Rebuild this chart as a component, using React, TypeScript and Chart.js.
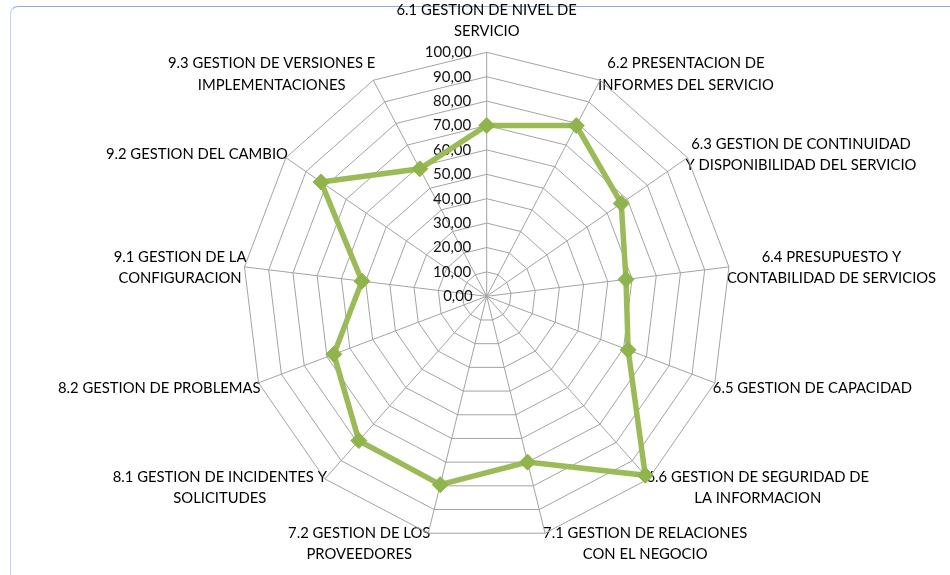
import React, { useEffect, useRef } from 'react';
import { Chart, registerables } from 'chart.js';

Chart.register(...registerables);

// ---- data ----
const categories: string[][] = [
  ['6.1 GESTION DE NIVEL DE', 'SERVICIO'],
  ['6.2 PRESENTACION DE', 'INFORMES DEL SERVICIO'],
  ['6.3 GESTION DE CONTINUIDAD', 'Y DISPONIBILIDAD DEL SERVICIO'],
  ['6.4 PRESUPUESTO Y', 'CONTABILIDAD DE SERVICIOS'],
  ['6.5 GESTION DE CAPACIDAD'],
  ['6.6 GESTION DE SEGURIDAD DE', 'LA INFORMACION'],
  ['7.1 GESTION DE RELACIONES', 'CON EL NEGOCIO'],
  ['7.2 GESTION DE LOS', 'PROVEEDORES'],
  ['8.1 GESTION DE INCIDENTES Y', 'SOLICITUDES'],
  ['8.2 GESTION DE PROBLEMAS'],
  ['9.1 GESTION DE LA', 'CONFIGURACION'],
  ['9.2 GESTION DEL CAMBIO'],
  ['9.3 GESTION DE VERSIONES E', 'IMPLEMENTACIONES'],
];

const values: number[] = [70, 79, 67, 57.5, 62, 98, 70, 79.5, 79, 67, 51.5, 82.5, 59];

const axisMin = -1e-9; // lets the 0,00 label be drawn
const axisMax = 100;
const axisStep = 10;

// ---- layout / style ----
const FONT = 'Lato, "Open Sans", sans-serif';
const CX = 486.7;
const CY = 296.3;
const R = 244;
const TICK_FONT_SIZE = 15;
const LABEL_FONT_SIZE = 14.8;
const TICK_GAP = 15;
const LINE_COLOR = '#9bbb59';
const MARKER_COLOR = '#8fb44b';
const GRID_COLOR = '#a3a3a3';

const measureCtx = typeof document !== 'undefined' ? document.createElement('canvas').getContext('2d') : null;

function formatTick(v: number): string {
  const txt = Math.max(0, v).toFixed(2).replace('.', ',');
  if (!measureCtx) return txt;
  measureCtx.font = `${TICK_FONT_SIZE}px ${FONT}`;
  const w = measureCtx.measureText(txt).width;
  const sp = measureCtx.measureText(' ').width || 4;
  const n = Math.max(0, Math.round((w + 2 * TICK_GAP) / sp));
  return txt + ' '.repeat(n);
}

export default function App() {
  const ref = useRef<HTMLCanvasElement | null>(null);

  useEffect(() => {
    if (!ref.current) return;
    const chart = new Chart(ref.current, {
      type: 'radar',
      data: {
        labels: categories,
        datasets: [
          {
            label: 'Serie',
            data: values,
            borderColor: LINE_COLOR,
            borderWidth: 5.5,
            fill: false,
            pointStyle: 'rectRot',
            pointRadius: 8,
            pointBackgroundColor: MARKER_COLOR,
            pointBorderColor: MARKER_COLOR,
            pointBorderWidth: 1,
            tension: 0,
          },
        ],
      },
      options: {
        responsive: false,
        animation: false,
        devicePixelRatio: 1,
        plugins: {
          legend: { display: false },
          tooltip: { enabled: false },
        },
        scales: {
          r: {
            min: axisMin,
            max: axisMax,
            ticks: {
              stepSize: axisStep,
              showLabelBackdrop: false,
              color: '#111',
              font: { family: FONT, size: TICK_FONT_SIZE },
              callback: (v: any) => formatTick(Number(v)),
            },
            grid: { color: GRID_COLOR, lineWidth: 1 },
            angleLines: { color: GRID_COLOR, lineWidth: 1 },
            pointLabels: {
              color: '#000',
              font: { family: FONT, size: LABEL_FONT_SIZE, lineHeight: 1.45 },
            },
            afterFit: (scale: any) => {
              scale.xCenter = CX;
              scale.yCenter = CY;
              scale.drawingArea = R;
              const items = scale._pointLabelItems || [];
              items.forEach((it: any, i: number) => {
                const w = it.right - it.left;
                const h = it.bottom - it.top;
                const a = scale.getIndexAngle(i);
                const p = scale.getPointPosition(i, R);
                const s = Math.sin(a);
                const c = Math.cos(a);
                let cx: number;
                let cy: number;
                if (Math.abs(s) < 0.05) {
                  cx = p.x;
                  cy = c > 0 ? p.y - 10 - h / 2 : p.y + 10 + h / 2;
                } else {
                  cx = s > 0 ? p.x - 2 + w / 2 : p.x + 2 - w / 2;
                  cy = p.y + 2 - 9 * c;
                }
                it.textAlign = 'center';
                it.x = cx;
                it.y = cy - h / 2;
                it.left = cx - w / 2;
                it.right = cx + w / 2;
                it.top = cy - h / 2;
                it.bottom = cy + h / 2;
                it.visible = true;
              });
            },
          },
        },
      } as any,
    });
    return () => chart.destroy();
  }, []);

  return (
    <div style={{ position: 'fixed', left: 0, top: 0, width: 950, height: 575, background: '#fff', overflow: 'hidden' }}>
      <div
        style={{
          position: 'absolute',
          left: 10,
          top: 6,
          width: 980,
          height: 620,
          borderTop: '1px solid #8eaae0',
          borderLeft: '1px solid #c3d2f1',
          borderTopLeftRadius: 8,
          boxSizing: 'border-box',
        }}
      />
      <canvas ref={ref} width={950} height={575} style={{ position: 'absolute', left: 0, top: 0, width: 950, height: 575 }} />
    </div>
  );
}
